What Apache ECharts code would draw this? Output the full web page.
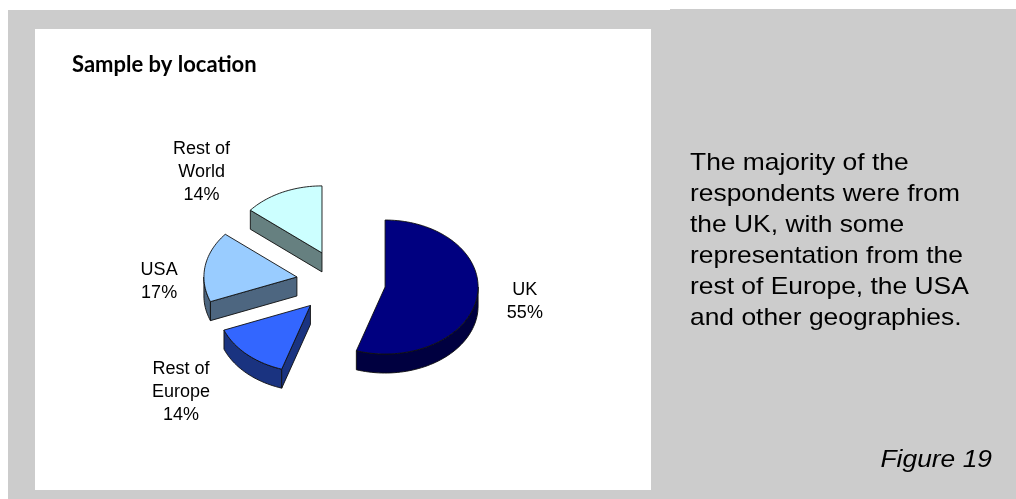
<!DOCTYPE html>
<html>
<head>
<meta charset="utf-8">
<title>Sample by location</title>
<script src="https://cdn.jsdelivr.net/npm/echarts@6/dist/echarts.min.js"></script>
<style>
  html, body { margin: 0; padding: 0; background: #ffffff; }
  #chart { width: 1016px; height: 499px; }
</style>
</head>
<body>
<div id="chart"></div>
<script>
// Survey sample split by respondent location (percent of respondents)
const categories = ['UK', 'Rest of Europe', 'USA', 'Rest of World'];
const shares = [55, 14, 17, 14];
const labelNames = ['UK', 'Rest of\nEurope', 'USA', 'Rest of\nWorld'];

// Face colours: top surface and the darker extruded sides
const topColors = ['#000080', '#3366FF', '#99CCFF', '#CCFFFF'];
const sideColors = ['#000040', '#1A3380', '#4D6680', '#668080'];

// Tilted pie geometry (ellipse radii, extrusion depth, explosion as a fraction of radius)
const pie = { cx: 341, cy: 282, rx: 93, ry: 67, depth: 19, explode: 0.48, labelDist: 1.5 };
// Small label nudges, in pixels, relative to the default outside position
const labelNudge = [[2, -1], [-34, 13], [0, 20], [-61, 10]];

const total = shares.reduce((s, v) => s + v, 0);
const startAngles = [];
let acc = 0;
shares.forEach(v => { startAngles.push(acc / total * Math.PI * 2); acc += v; });

function rim(ox, oy, t, dy) {
  return [ox + pie.rx * Math.sin(t), oy - pie.ry * Math.cos(t) + (dy || 0)];
}
function arcPoints(ox, oy, t1, t2, dy) {
  const pts = [];
  const n = Math.max(8, Math.ceil(Math.abs(t2 - t1) / (Math.PI / 90)));
  for (let i = 0; i <= n; i++) pts.push(rim(ox, oy, t1 + (t2 - t1) * i / n, dy));
  return pts;
}

// back-to-front drawing order by the slice's screen depth
const order = shares.map((v, i) => {
  const mid = startAngles[i] + v / total * Math.PI;
  return { i, y: -Math.cos(mid) };
}).sort((a, b) => a.y - b.y).map(o => o.i);
const rank = [];
order.forEach((idx, r) => { rank[idx] = r; });

const edge = { stroke: '#101010', lineWidth: 0.9, lineJoin: 'round' };

function renderSlice(params, api) {
  const i = params.dataIndex;
  const value = api.value(0);
  const t1 = startAngles[i];
  const t2 = t1 + value / total * Math.PI * 2;
  const mid = (t1 + t2) / 2;
  const ox = pie.cx + pie.explode * pie.rx * Math.sin(mid);
  const oy = pie.cy - pie.explode * pie.ry * Math.cos(mid);
  const d = pie.depth;
  const zBase = rank[i] * 10;
  const children = [];

  // outer curved wall, visible on the front half of the ellipse
  const s = Math.max(t1, Math.PI / 2), e = Math.min(t2, Math.PI * 1.5);
  if (e > s) {
    const pts = arcPoints(ox, oy, s, e, 0).concat(arcPoints(ox, oy, e, s, d));
    children.push({ type: 'polygon', z2: zBase + 1, shape: { points: pts },
      style: Object.assign({ fill: sideColors[i] }, edge) });
  }
  // cut faces along the slice edges when they face the viewer
  const faces = [];
  if (Math.sin(t1) < -1e-6) faces.push(t1);
  if (Math.sin(t2) > 1e-6) faces.push(t2);
  faces.forEach(t => {
    const p = rim(ox, oy, t, 0);
    children.push({ type: 'polygon', z2: zBase + 2,
      shape: { points: [[ox, oy], p, [p[0], p[1] + d], [ox, oy + d]] },
      style: Object.assign({ fill: sideColors[i] }, edge) });
  });
  // top surface
  const topPts = [[ox, oy]].concat(arcPoints(ox, oy, t1, t2, 0));
  children.push({ type: 'polygon', z2: zBase + 3, shape: { points: topPts },
    style: Object.assign({ fill: topColors[i] }, edge) });

  // data label outside the slice
  const lp = rim(ox, oy, mid, 0);
  const lx = ox + (lp[0] - ox) * pie.labelDist + labelNudge[i][0];
  const ly = oy + (lp[1] - oy) * pie.labelDist + labelNudge[i][1];
  children.push({ type: 'text', z2: 100,
    style: { text: labelNames[i] + '\n' + value + '%', x: lx, y: ly,
      align: 'center', verticalAlign: 'middle', fill: '#000000',
      font: '18px "Liberation Sans", Arial, sans-serif', lineHeight: 23 } });

  return { type: 'group', children };
}

const chart = echarts.init(document.getElementById('chart'), null, { renderer: 'canvas' });
chart.setOption({
  animation: false,
  backgroundColor: '#ffffff',
  title: {
    text: 'Sample by location',
    left: 72, top: 54, padding: 0,
    textStyle: { fontFamily: 'Lato, "Open Sans", sans-serif', fontWeight: 'bold', fontSize: 22, color: '#000000' }
  },
  graphic: [
    { type: 'rect', z: -10, shape: { x: 8, y: 10, width: 662, height: 489 }, style: { fill: '#CCCCCC' } },
    { type: 'rect', z: -10, shape: { x: 670, y: 9, width: 346, height: 490 }, style: { fill: '#CCCCCC' } },
    { type: 'rect', z: -9, shape: { x: 35, y: 29, width: 616, height: 461 }, style: { fill: '#FFFFFF' } },
    { type: 'text', z: 10, x: 690, y: 148, scaleX: 1.1,
      style: { text: 'The majority of the\nrespondents were from\nthe UK, with some\nrepresentation from the\nrest of Europe, the USA\nand other geographies.',
        font: '24px "Liberation Sans", Arial, sans-serif', lineHeight: 31, fill: '#000000',
        align: 'left', verticalAlign: 'top' } },
    { type: 'text', z: 10, x: 992, y: 472, scaleX: 1.1,
      style: { text: 'Figure 19', font: 'italic 24px "Liberation Sans", Arial, sans-serif',
        fill: '#000000', align: 'right', verticalAlign: 'bottom' } }
  ],
  series: [{
    type: 'custom',
    coordinateSystem: 'none',
    name: 'Sample by location',
    data: shares.map((v, i) => ({ name: categories[i], value: [v] })),
    renderItem: renderSlice
  }]
});
</script>
</body>
</html>
